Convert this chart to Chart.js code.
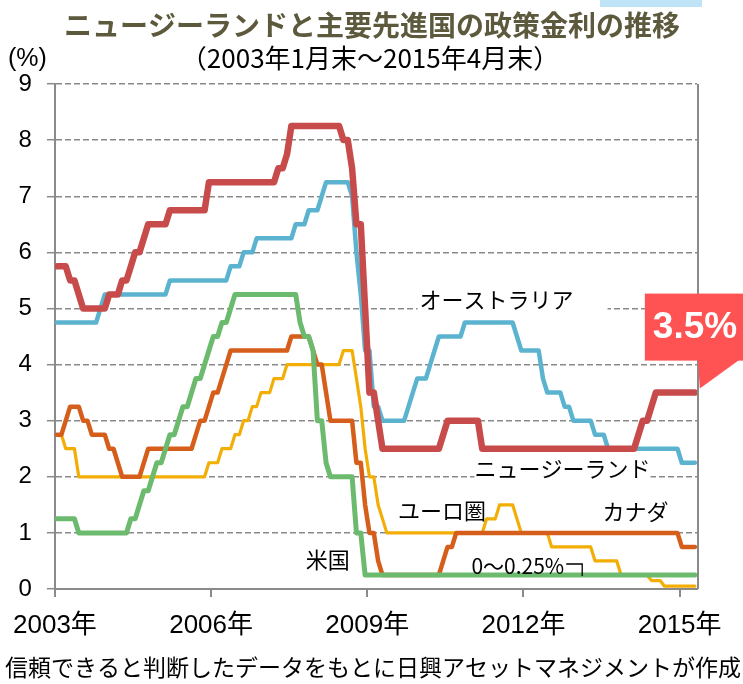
<!DOCTYPE html>
<html>
<head>
<meta charset="utf-8">
<script src="https://cdn.jsdelivr.net/npm/chart.js@4/dist/chart.umd.min.js"></script>
<style>
  html, body { margin: 0; padding: 0; background: #ffffff; }
  #wrap { width: 743px; height: 684px; position: relative; }
  canvas { display: block; }
</style>
</head>
<body>
<div id="wrap"><canvas id="c" width="743" height="684"></canvas></div>
<script>
// ---- Data (month-end policy rates, Jan 2003 .. Apr 2015, one value per month) ----
const tickLabels = ['2003年', '2006年', '2009年', '2012年', '2015年'];
const tickMonthIndex = [0, 36, 72, 108, 144];
const yTicks = [0, 1, 2, 3, 4, 5, 6, 7, 8, 9];

const newZealand = [
  5.75, 5.75, 5.75, 5.5, 5.5, 5.25, 5, 5, 5, 5, 5, 5,
  5.25, 5.25, 5.25, 5.5, 5.5, 5.75, 6, 6, 6.25, 6.5, 6.5, 6.5,
  6.5, 6.5, 6.75, 6.75, 6.75, 6.75, 6.75, 6.75, 6.75, 6.75, 6.75, 7.25,
  7.25, 7.25, 7.25, 7.25, 7.25, 7.25, 7.25, 7.25, 7.25, 7.25, 7.25, 7.25,
  7.25, 7.25, 7.25, 7.5, 7.5, 7.75, 8.25, 8.25, 8.25, 8.25, 8.25, 8.25,
  8.25, 8.25, 8.25, 8.25, 8.25, 8.25, 8, 8, 7.5, 6.5, 6.5, 5,
  3.5, 3.5, 3, 2.5, 2.5, 2.5, 2.5, 2.5, 2.5, 2.5, 2.5, 2.5,
  2.5, 2.5, 2.5, 2.5, 2.5, 2.75, 3, 3, 3, 3, 3, 3,
  3, 3, 2.5, 2.5, 2.5, 2.5, 2.5, 2.5, 2.5, 2.5, 2.5, 2.5,
  2.5, 2.5, 2.5, 2.5, 2.5, 2.5, 2.5, 2.5, 2.5, 2.5, 2.5, 2.5,
  2.5, 2.5, 2.5, 2.5, 2.5, 2.5, 2.5, 2.5, 2.5, 2.5, 2.5, 2.5,
  2.5, 2.5, 2.75, 3, 3, 3.25, 3.5, 3.5, 3.5, 3.5, 3.5, 3.5,
  3.5, 3.5, 3.5, 3.5
];

const australia = [
  4.75, 4.75, 4.75, 4.75, 4.75, 4.75, 4.75, 4.75, 4.75, 4.75, 5, 5.25,
  5.25, 5.25, 5.25, 5.25, 5.25, 5.25, 5.25, 5.25, 5.25, 5.25, 5.25, 5.25,
  5.25, 5.25, 5.5, 5.5, 5.5, 5.5, 5.5, 5.5, 5.5, 5.5, 5.5, 5.5,
  5.5, 5.5, 5.5, 5.5, 5.75, 5.75, 5.75, 6, 6, 6, 6.25, 6.25,
  6.25, 6.25, 6.25, 6.25, 6.25, 6.25, 6.25, 6.5, 6.5, 6.5, 6.75, 6.75,
  6.75, 7, 7.25, 7.25, 7.25, 7.25, 7.25, 7.25, 7, 6, 5.25, 4.25,
  4.25, 3.25, 3.25, 3, 3, 3, 3, 3, 3, 3.25, 3.5, 3.75,
  3.75, 3.75, 4, 4.25, 4.5, 4.5, 4.5, 4.5, 4.5, 4.5, 4.75, 4.75,
  4.75, 4.75, 4.75, 4.75, 4.75, 4.75, 4.75, 4.75, 4.75, 4.75, 4.5, 4.25,
  4.25, 4.25, 4.25, 4.25, 3.75, 3.5, 3.5, 3.5, 3.5, 3.25, 3.25, 3,
  3, 3, 3, 3, 2.75, 2.75, 2.75, 2.5, 2.5, 2.5, 2.5, 2.5,
  2.5, 2.5, 2.5, 2.5, 2.5, 2.5, 2.5, 2.5, 2.5, 2.5, 2.5, 2.5,
  2.25, 2.25, 2.25, 2.25
];

const unitedStates = [
  1.25, 1.25, 1.25, 1.25, 1.25, 1, 1, 1, 1, 1, 1, 1,
  1, 1, 1, 1, 1, 1.25, 1.25, 1.5, 1.75, 1.75, 2, 2.25,
  2.25, 2.5, 2.75, 2.75, 3, 3.25, 3.25, 3.5, 3.75, 3.75, 4, 4.25,
  4.5, 4.5, 4.75, 4.75, 5, 5.25, 5.25, 5.25, 5.25, 5.25, 5.25, 5.25,
  5.25, 5.25, 5.25, 5.25, 5.25, 5.25, 5.25, 5.25, 4.75, 4.5, 4.5, 4.25,
  3, 3, 2.25, 2, 2, 2, 2, 2, 2, 1, 1, 0.25,
  0.25, 0.25, 0.25, 0.25, 0.25, 0.25, 0.25, 0.25, 0.25, 0.25, 0.25, 0.25,
  0.25, 0.25, 0.25, 0.25, 0.25, 0.25, 0.25, 0.25, 0.25, 0.25, 0.25, 0.25,
  0.25, 0.25, 0.25, 0.25, 0.25, 0.25, 0.25, 0.25, 0.25, 0.25, 0.25, 0.25,
  0.25, 0.25, 0.25, 0.25, 0.25, 0.25, 0.25, 0.25, 0.25, 0.25, 0.25, 0.25,
  0.25, 0.25, 0.25, 0.25, 0.25, 0.25, 0.25, 0.25, 0.25, 0.25, 0.25, 0.25,
  0.25, 0.25, 0.25, 0.25, 0.25, 0.25, 0.25, 0.25, 0.25, 0.25, 0.25, 0.25,
  0.25, 0.25, 0.25, 0.25
];

const canada = [
  2.75, 2.75, 3, 3.25, 3.25, 3.25, 3, 3, 2.75, 2.75, 2.75, 2.75,
  2.5, 2.5, 2.25, 2, 2, 2, 2, 2, 2.25, 2.5, 2.5, 2.5,
  2.5, 2.5, 2.5, 2.5, 2.5, 2.5, 2.5, 2.5, 2.75, 3, 3, 3.25,
  3.5, 3.5, 3.75, 4, 4.25, 4.25, 4.25, 4.25, 4.25, 4.25, 4.25, 4.25,
  4.25, 4.25, 4.25, 4.25, 4.25, 4.25, 4.5, 4.5, 4.5, 4.5, 4.5, 4.25,
  4, 4, 3.5, 3, 3, 3, 3, 3, 3, 2.25, 2.25, 1.5,
  1, 1, 0.5, 0.25, 0.25, 0.25, 0.25, 0.25, 0.25, 0.25, 0.25, 0.25,
  0.25, 0.25, 0.25, 0.25, 0.25, 0.5, 0.75, 0.75, 1, 1, 1, 1,
  1, 1, 1, 1, 1, 1, 1, 1, 1, 1, 1, 1,
  1, 1, 1, 1, 1, 1, 1, 1, 1, 1, 1, 1,
  1, 1, 1, 1, 1, 1, 1, 1, 1, 1, 1, 1,
  1, 1, 1, 1, 1, 1, 1, 1, 1, 1, 1, 1,
  0.75, 0.75, 0.75, 0.75
];

const euroArea = [
  2.75, 2.75, 2.5, 2.5, 2.5, 2, 2, 2, 2, 2, 2, 2,
  2, 2, 2, 2, 2, 2, 2, 2, 2, 2, 2, 2,
  2, 2, 2, 2, 2, 2, 2, 2, 2, 2, 2, 2.25,
  2.25, 2.25, 2.5, 2.5, 2.5, 2.75, 2.75, 3, 3, 3.25, 3.25, 3.5,
  3.5, 3.5, 3.75, 3.75, 3.75, 4, 4, 4, 4, 4, 4, 4,
  4, 4, 4, 4, 4, 4, 4.25, 4.25, 4.25, 3.75, 3.25, 2.5,
  2, 2, 1.5, 1.25, 1, 1, 1, 1, 1, 1, 1, 1,
  1, 1, 1, 1, 1, 1, 1, 1, 1, 1, 1, 1,
  1, 1, 1, 1.25, 1.25, 1.25, 1.5, 1.5, 1.5, 1.5, 1.25, 1,
  1, 1, 1, 1, 1, 1, 0.75, 0.75, 0.75, 0.75, 0.75, 0.75,
  0.75, 0.75, 0.75, 0.75, 0.5, 0.5, 0.5, 0.5, 0.5, 0.5, 0.25, 0.25,
  0.25, 0.25, 0.25, 0.25, 0.25, 0.15, 0.15, 0.15, 0.05, 0.05, 0.05, 0.05,
  0.05, 0.05, 0.05, 0.05
];

const seriesNames = ['ニュージーランド', 'オーストラリア', '米国', 'カナダ', 'ユーロ圏'];
const latestLabel = '3.5%';

// ---- Styling / annotation placement (in data units) ----
const JP = '"Noto Sans CJK JP", sans-serif';
const NUM = '"Liberation Sans", "Noto Sans CJK JP", sans-serif';

const seriesStyles = [
  { data: newZealand,   color: '#c84b4b', width: 6.5 },
  { data: australia,    color: '#5bb3cf', width: 4.5 },
  { data: unitedStates, color: '#6cba6e', width: 5 },
  { data: canada,       color: '#d55e1a', width: 4.5 },
  { data: euroArea,     color: '#f2ae05', width: 3.2 }
];

const textLabels = [
  { text: 'オーストラリア',   m: 101.3, v: 5.16, size: 22, bgL: 2, bgR: 34 },
  { text: 'ニュージーランド', m: 116.5, v: 2.14, size: 22, bgL: 0, bgR: 0 },
  { text: 'ユーロ圏',        m: 88.7,  v: 1.39, size: 22 },
  { text: 'カナダ',          m: 133.3, v: 1.37, size: 22 },
  { text: '米国',            m: 62.4,  v: 0.52, size: 22 },
  { text: '0～0.25%',       m: 95.5,  v: 0.41, size: 21, left: true, bracket: true }
];

const datasets = seriesStyles.map((s, i) => ({
  label: seriesNames[i],
  data: s.data.map((v, k) => ({ x: k, y: v })),
  borderColor: s.color,
  backgroundColor: s.color,
  borderWidth: s.width,
  pointRadius: 0,
  tension: 0,
  fill: false,
  borderJoinStyle: 'round',
  borderCapStyle: 'round'
}));

const decorPlugin = {
  id: 'decor',
  beforeDatasetsDraw(chart) {
    const { ctx, scales: { x, y }, chartArea } = chart;
    ctx.save();
    textLabels.forEach(l => {
      if (l.bgL === undefined) return;
      ctx.font = `${l.size}px ${JP}`;
      const w = ctx.measureText(l.text).width;
      const cx = x.getPixelForValue(l.m), cy = y.getPixelForValue(l.v);
      ctx.fillStyle = '#ffffff';
      ctx.fillRect(cx - w / 2 - l.bgL, cy - l.size * 0.6, w + l.bgL + l.bgR, l.size * 1.2);
    });
    ctx.strokeStyle = '#8a8a8a';
    ctx.lineWidth = 2;
    ctx.beginPath();
    ctx.moveTo(chartArea.right + 1, chartArea.top);
    ctx.lineTo(chartArea.right + 1, chartArea.bottom);
    ctx.stroke();
    ctx.restore();
  },
  afterDatasetsDraw(chart) {
    const { ctx, scales: { x, y } } = chart;
    ctx.save();
    ctx.fillStyle = '#000000';
    ctx.textBaseline = 'middle';
    textLabels.forEach(l => {
      ctx.font = `${l.size}px ${JP}`;
      const px = x.getPixelForValue(l.m), py = y.getPixelForValue(l.v);
      ctx.textAlign = l.left ? 'left' : 'center';
      ctx.fillText(l.text, px, py);
      if (l.bracket) {
        const w = ctx.measureText(l.text).width;
        const bx = px + w + 2;
        ctx.strokeStyle = '#000000';
        ctx.lineWidth = 1.3;
        ctx.beginPath();
        ctx.moveTo(bx, py - 2);
        ctx.lineTo(bx + 16, py - 2);
        ctx.lineTo(bx + 16, py + 10);
        ctx.stroke();
      }
    });

    // callout for the latest NZ value
    const lastIdx = newZealand.length - 1;
    const tipX = x.getPixelForValue(lastIdx) + 5;
    const tipY = y.getPixelForValue(newZealand[lastIdx]) - 4;
    const boxL = tipX - 55, boxT = tipY - 95, boxB = tipY - 28;
    ctx.fillStyle = '#ff5252';
    ctx.fillRect(boxL, boxT, 120, boxB - boxT);
    ctx.beginPath();
    ctx.moveTo(tipX - 2, boxB - 1);
    ctx.lineTo(tipX + 40, boxB - 1);
    ctx.lineTo(tipX, tipY);
    ctx.closePath();
    ctx.fill();
    ctx.fillStyle = '#ffffff';
    ctx.font = `bold 37px ${NUM}`;
    ctx.textAlign = 'left';
    ctx.fillText(latestLabel, boxL + 8, (boxT + boxB) / 2 + 1);
    ctx.restore();
  },
  afterDraw(chart) {
    const { ctx } = chart;
    ctx.save();
    ctx.fillStyle = '#bfe4f8';
    ctx.fillRect(600, 0, 102, 7);
    ctx.textBaseline = 'middle';
    ctx.textAlign = 'center';
    ctx.fillStyle = '#5d593d';
    ctx.font = `bold 28px ${JP}`;
    ctx.fillText('ニュージーランドと主要先進国の政策金利の推移', 372, 25);
    ctx.fillStyle = '#000000';
    ctx.font = `26px ${JP}`;
    ctx.fillText('（2003年1月末～2015年4月末）', 370, 58);
    ctx.font = `25px ${NUM}`;
    ctx.textAlign = 'left';
    ctx.fillText('(%)', 8, 59);
    ctx.textAlign = 'center';
    ctx.font = `23px ${JP}`;
    ctx.fillText('信頼できると判断したデータをもとに日興アセットマネジメントが作成', 373, 667);
    ctx.restore();
  }
};

new Chart(document.getElementById('c'), {
  type: 'line',
  data: { datasets },
  options: {
    responsive: false,
    animation: false,
    devicePixelRatio: 1,
    layout: { padding: { top: 84, right: 46, bottom: 40, left: 0 } },
    plugins: {
      legend: { display: false },
      tooltip: { enabled: false },
      title: { display: false }
    },
    scales: {
      x: {
        type: 'linear',
        min: -0.5,
        max: 147.5,
        afterBuildTicks: s => { s.ticks = tickMonthIndex.map(m => ({ value: m - 0.5 })); },
        afterFit: s => { s.height = 55; },
        ticks: {
          autoSkip: false,
          maxRotation: 0,
          padding: 13,
          color: '#000000',
          font: { size: 26, family: NUM },
          callback: (v) => {
            const i = tickMonthIndex.indexOf(Math.round(v + 0.5));
            return i >= 0 ? tickLabels[i] : '';
          }
        },
        grid: { drawOnChartArea: false, drawTicks: true, tickLength: 8, color: '#8a8a8a', lineWidth: 2 },
        border: { display: true, color: '#8a8a8a', width: 2 }
      },
      y: {
        min: 0,
        max: 9,
        afterBuildTicks: s => { s.ticks = yTicks.map(v => ({ value: v })); },
        afterFit: s => { s.width = 48; },
        ticks: {
          padding: 15,
          color: '#000000',
          font: { size: 24, family: NUM }
        },
        grid: { color: '#8a8a8a', lineWidth: 1.4, tickLength: 8, tickColor: '#8a8a8a', tickWidth: 1.5 },
        border: { display: true, color: '#8a8a8a', width: 2, dash: [6, 3] }
      }
    }
  },
  plugins: [decorPlugin]
});
</script>
</body>
</html>
